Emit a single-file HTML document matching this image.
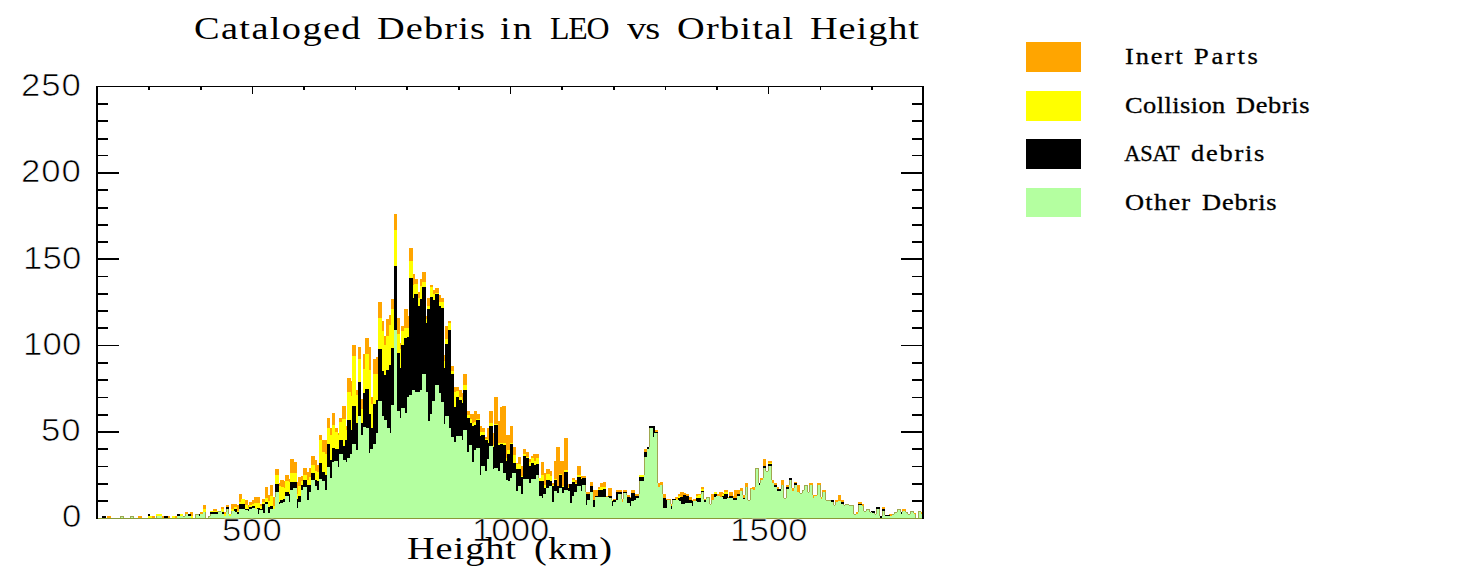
<!DOCTYPE html>
<html><head><meta charset="utf-8"><title>Cataloged Debris in LEO vs Orbital Height</title>
<style>
html,body{margin:0;padding:0;background:#fff;}
body{width:1478px;height:576px;position:relative;overflow:hidden;font-family:"Liberation Sans",sans-serif;color:#000;}
svg{position:absolute;left:0;top:0;display:block;}
.t{position:absolute;white-space:nowrap;line-height:1;transform-origin:0 0;}
.dg{-webkit-text-stroke:0.7px #fff;}
.lgt{-webkit-text-stroke:0.3px #000;}
.ser{font-family:"Liberation Serif",serif;}
.title{left:195px;top:9px;font-size:33.5px;letter-spacing:2.55px;}
.xl{left:407px;top:531px;font-size:33.5px;letter-spacing:2.3px;}
.yt{font-size:30.5px;letter-spacing:1.6px;text-align:right;width:80px;left:1px;}
.xt{font-size:30.5px;letter-spacing:1.6px;text-align:center;width:120px;top:516px;}
.lg{left:1125px;font-size:20.5px;letter-spacing:1.35px;}
.sw{position:absolute;left:1026px;width:55px;height:30px;}
</style></head><body>
<svg width="1478" height="576" viewBox="0 0 1478 576" shape-rendering="crispEdges">
<rect width="1478" height="576" fill="#fff"/>
<rect x="96.7" y="514" width="1.6" height="4" fill="#000"/>
<rect x="148.3" y="514" width="1.6" height="4" fill="#000"/>
<rect x="199.9" y="514" width="1.6" height="4" fill="#000"/>
<rect x="251.6" y="510" width="1.6" height="8" fill="#000"/>
<rect x="303.2" y="514" width="1.6" height="4" fill="#000"/>
<rect x="354.8" y="514" width="1.6" height="4" fill="#000"/>
<rect x="406.4" y="514" width="1.6" height="4" fill="#000"/>
<rect x="458.1" y="514" width="1.6" height="4" fill="#000"/>
<rect x="509.7" y="510" width="1.6" height="8" fill="#000"/>
<rect x="561.3" y="514" width="1.6" height="4" fill="#000"/>
<rect x="613.0" y="514" width="1.6" height="4" fill="#000"/>
<rect x="664.6" y="514" width="1.6" height="4" fill="#000"/>
<rect x="716.2" y="514" width="1.6" height="4" fill="#000"/>
<rect x="767.8" y="510" width="1.6" height="8" fill="#000"/>
<rect x="819.5" y="514" width="1.6" height="4" fill="#000"/>
<rect x="871.1" y="514" width="1.6" height="4" fill="#000"/>
<rect x="922.7" y="514" width="1.6" height="4" fill="#000"/>
<path d="M97 518H102V516H106V518H107V516H111V518H120V516H124V518H130V516H134V518H138V516H142V518H148V516H155V518H156V514H162V516H170V518H172V516H177V514H183V516H185V512H188V514H190V512H193V518H195V514H200V512H203V505H206V518H208V516H210V511H213V509H217V511H221V507H224V512H226V505H229V514H231V504H237V505H239V494H242V499H245V500H248V505H249V502H252V500H254V497H260V504H262V499H265V487H268V495H270V485H273V497H275V469H279V483H280V480H284V481H285V475H289V479H290V459H294V462H297V482H298V477H301V476H303V468H307V472H309V468H311V456H315V460H317V465H319V435H322V440H327V418H330V428H332V413H335V428H338V433H339V418H342V406H346V426H347V378H351V381H352V345H356V390H358V347H361V399H363V354H365V338H369V347H371V397H373V359H376V357H378V302H382V321H384V336H386V319H389V315H391V299H394V214H397V318H400V343H401V326H404V309H408V316H409V248H413V274H415V279H418V292H420V279H422V272H426V316H427V298H430V285H433V290H435V288H439V295H441V298H444V355H445V326H448V321H451V366H454V387H459V390H462V393H463V374H467V411H470V414H474V411H477V414H480V426H482V428H485V437H487V428H489V411H493V433H494V397H498V421H500V407H502V406H506V435H510V426H513V447H516V463H518V457H521V466H523V449H526V452H529V459H531V456H533V454H539V478H541V462H544V473H546V469H550V471H552V483H554V461H556V447H560V461H564V438H568V484H572V478H575V480H577V466H581V476H586V492H590V482H593V490H598V487H600V483H603V482H606V496H608V488H612V500H613V499H616V490H622V499H623V490H627V495H630V497H631V490H635V494H639V475H644V449H647V447H649V426H655V430H658V483H660V482H663V494H666V499H671V504H672V499H675V497H678V494H680V492H684V493H686V494H689V497H692V500H693V499H696V494H701V487H704V499H706V497H710V504H711V494H714V492H717V494H719V492H723V493H724V490H728V497H729V492H733V496H734V490H740V488H743V495H745V483H748V500H750V488H752V487H755V468H759V483H760V478H763V459H766V471H768V461H772V480H774V483H777V487H779V489H781V480H784V498H786V485H789V478H792V488H794V482H797V485H800V493H802V490H804V485H808V492H809V483H813V495H817V483H821V497H822V490H826V500H834V505H835V500H838V495H841V500H844V505H845V504H849V505H854V514H856V512H858V502H862V504H864V511H866V509H870V512H871V511H875V514H876V507H880V516H882V507H885V515H889V514H894V512H897V509H901V512H902V509H906V512H908V514H910V511H914V513H916V518H918V511H921V512H924V518Z" fill="#ffa500"/>
<path d="M97 518H102V516H106V518H120V516H124V518H130V516H134V518H148V516H152V518H156V514H162V518H164V516H168V518H172V516H175V518H177V514H183V516H185V514H191V516H193V518H195V514H203V509H206V518H208V516H210V511H221V509H224V514H226V507H229V514H231V509H234V507H237V511H239V502H241V499H245V505H248V508H249V505H252V504H254V503H260V506H262V502H265V498H268V501H270V496H273V506H275V475H279V486H281V487H284V488H285V481H289V482H290V473H297V494H298V486H301V481H303V475H307V480H309V477H311V465H315V471H317V472H319V440H322V452H325V454H327V428H330V435H332V425H335V432H338V435H339V422H342V419H346V430H347V392H351V396H352V356H356V395H358V359H361V409H363V369H365V354H369V370H371V404H373V374H378V318H382V331H384V345H386V336H389V325H391V309H394V230H397V334H400V349H401V331H404V328H409V261H413V285H414V284H418V298H420V286H422V282H426V319H427V306H430V287H433V294H435V293H439V302H444V361H445V339H448V323H451V371H454V392H456V391H459V397H462V400H463V385H467V415H470V419H472V423H474V422H476V419H480V432H485V439H488V440H489V423H493V445H494V424H498V443H506V458H507V450H510V443H513V455H516V464H521V476H523V454H526V457H529V462H531V458H534V461H536V458H539V478H541V475H544V485H546V474H550V476H552V485H554V479H557V486H559V474H562V486H564V470H568V487H569V484H572V480H575V483H577V475H581V478H586V494H590V486H593V500H595V496H598V489H600V487H606V497H608V496H612V500H616V492H622V502H623V492H627V497H630V498H631V493H635V496H639V475H644V452H647V447H649V426H655V432H658V487H660V485H663V498H666V500H671V506H672V499H678V496H681V497H683V495H686V496H689V500H692V501H696V496H698V495H701V489H704V500H706V497H710V504H711V500H714V492H717V496H720V497H722V494H724V492H728V498H729V496H733V498H737V494H740V491H743V498H745V487H748V500H750V489H753V490H755V468H759V483H760V480H763V466H766V471H768V463H772V483H774V485H777V489H781V485H784V498H786V487H789V478H792V491H794V483H797V492H800V493H802V490H804V485H808V492H809V485H813V498H814V496H817V485H821V499H822V492H826V500H834V505H835V502H838V501H841V502H844V505H845V504H849V505H854V514H858V504H862V506H864V511H866V509H870V512H871V511H875V514H876V507H880V516H882V509H885V515H890V516H892V514H894V512H897V509H901V512H902V511H906V512H908V514H910V511H914V514H916V518H918V511H921V514H924V518Z" fill="#ffff00"/>
<path d="M97 518H102V516H106V518H120V516H124V518H130V516H134V518H156V516H162V518H164V516H168V518H177V514H180V516H185V514H191V518H195V514H203V512H206V518H208V516H210V512H218V511H222V512H224V516H226V507H229V516H231V511H234V509H237V512H239V504H245V509H249V507H252V506H255V509H257V508H260V509H262V504H265V502H268V507H270V506H273V509H275V484H279V502H280V500H283V499H285V492H289V494H290V482H297V499H298V496H301V485H303V480H307V485H311V473H315V480H317V481H319V463H322V472H325V475H327V444H330V460H332V448H335V449H339V440H343V446H345V440H347V420H351V430H352V406H356V423H358V382H361V423H363V393H365V389H369V414H371V428H373V404H376V400H378V349H382V371H384V375H386V370H389V365H391V348H394V266H397V353H400V368H401V345H404V338H407V337H409V278H413V298H414V294H418V306H420V299H422V287H426V323H427V309H430V297H433V300H435V294H439V306H441V308H444V368H445V344H448V330H451V374H454V407H456V397H459V400H462V403H463V390H467V418H470V423H472V426H474V425H476V420H480V436H481V435H485V440H488V443H489V426H493V447H494V425H498V445H500V444H503V445H506V461H507V454H510V444H513V463H516V469H521V477H523V456H526V458H529V466H531V463H534V465H536V464H539V481H544V488H546V480H550V481H552V486H554V480H557V486H559V475H562V487H564V472H568V488H569V484H572V482H575V484H577V477H581V479H582V478H586V494H590V486H593V500H595V496H598V490H603V489H606V497H608V496H612V501H613V500H616V492H622V502H623V492H627V497H630V498H631V493H635V496H639V477H644V452H647V447H649V426H655V432H658V487H660V485H663V498H666V500H671V506H672V499H676V500H678V498H680V497H683V495H686V496H689V500H692V501H696V498H701V491H704V500H706V497H710V504H711V500H714V494H717V496H720V497H722V496H724V494H728V498H729V496H733V498H737V494H740V491H743V498H745V487H748V500H750V489H753V490H755V468H759V483H760V480H763V466H766V471H768V464H772V483H774V485H777V489H781V485H784V498H786V487H789V478H792V491H794V483H797V492H800V493H802V490H804V485H808V492H809V485H813V498H814V496H817V485H821V499H822V492H826V500H834V505H835V502H838V501H841V502H844V505H845V504H849V505H854V514H858V504H862V506H864V511H866V509H870V512H871V511H875V514H876V507H880V516H882V509H885V515H890V516H892V514H894V512H897V509H901V512H902V511H906V512H908V514H910V511H914V514H916V518H918V511H921V514H924V518Z" fill="#000000"/>
<path d="M97 518H120V516H124V518H130V516H134V518H156V516H162V518H177V516H185V514H188V516H191V518H195V514H199V516H200V514H203V512H206V518H208V516H210V514H218V511H222V514H224V516H226V509H229V516H231V511H235V512H237V514H239V509H245V510H248V511H249V509H252V508H255V509H258V514H259V510H263V513H265V504H268V513H270V509H275V492H279V504H280V503H283V502H285V496H289V502H290V490H293V488H297V508H298V502H301V490H303V487H307V500H309V492H311V480H315V486H317V490H319V479H322V481H325V490H327V467H330V478H332V462H334V461H338V467H339V454H343V460H346V462H347V458H350V454H352V444H356V450H358V416H361V435H363V427H366V428H369V453H370V449H373V444H376V433H378V401H382V416H384V420H387V428H390V433H391V405H394V330H397V411H400V418H401V408H405V413H407V397H409V395H412V390H415V392H420V390H422V374H426V392H428V421H430V414H432V401H435V385H439V393H441V402H444V424H445V416H449V428H451V437H454V442H456V436H462V440H463V430H467V452H469V445H472V462H474V450H476V448H480V475H481V466H485V471H487V459H489V446H493V469H494V468H498V471H500V463H503V473H506V480H508V481H510V478H512V473H516V491H518V486H521V494H523V479H529V483H531V479H536V475H539V496H542V498H543V494H546V488H549V486H552V502H554V491H557V493H559V488H562V493H564V490H568V491H570V503H572V496H574V492H577V486H581V491H582V485H586V505H587V500H590V492H593V507H595V497H609V498H612V506H613V502H616V500H618V494H622V502H623V493H627V503H630V506H631V501H634V500H636V498H639V481H644V457H647V449H649V428H653V437H654V433H658V487H660V485H663V508H667V500H671V509H672V500H679V501H681V504H685V503H692V506H693V501H697V502H701V492H704V502H706V497H710V504H711V500H714V497H716V496H720V497H723V499H727V498H733V500H737V496H740V491H743V499H745V487H748V500H750V489H753V490H755V468H759V485H760V480H763V468H766V471H768V466H772V483H774V487H777V491H781V485H784V498H786V489H789V480H792V491H794V485H797V492H800V493H802V490H804V485H808V492H809V485H813V498H814V496H817V485H821V499H822V492H826V500H831V502H834V505H835V502H838V501H841V504H844V505H845V504H849V505H854V514H858V505H862V506H864V511H866V509H870V512H872V513H875V514H876V509H880V518H882V511H885V516H892V514H894V512H897V509H901V514H902V511H906V512H908V514H910V511H914V514H916V518H918V511H921V514H924V518Z" fill="#b4ffa0"/>
<rect x="98" y="518" width="824" height="1" fill="#8a9a38"/>
<path d="M120 516h1v2h-1zM121 516h1v1h-1zM122 516h1v1h-1zM123 516h1v2h-1zM130 516h1v2h-1zM131 516h1v1h-1zM132 516h1v1h-1zM133 516h1v2h-1zM156 516h1v2h-1zM183 516h1v1h-1zM184 516h1v1h-1zM185 514h1v2h-1zM195 514h1v4h-1zM196 514h1v1h-1zM197 514h1v1h-1zM198 514h1v1h-1zM205 512h1v6h-1zM208 516h1v2h-1zM209 516h1v1h-1zM210 514h1v2h-1zM218 511h1v1h-1zM219 511h1v1h-1zM220 511h1v1h-1zM226 509h1v3h-1zM228 509h1v5h-1zM231 511h1v3h-1zM275 492h1v5h-1zM538 475h1v3h-1zM585 485h1v7h-1zM611 498h1v2h-1zM621 494h1v5h-1zM623 493h1v6h-1zM626 493h1v2h-1zM639 481h1v13h-1zM644 457h1v18h-1zM649 428h1v19h-1zM657 433h1v50h-1zM662 485h1v9h-1zM670 500h1v4h-1zM672 500h1v4h-1zM701 492h1v2h-1zM703 492h1v7h-1zM706 497h1v2h-1zM707 497h1v1h-1zM708 497h1v1h-1zM709 497h1v7h-1zM710 504h1v1h-1zM711 500h1v4h-1zM742 491h1v4h-1zM745 487h1v8h-1zM747 487h1v13h-1zM748 500h1v1h-1zM749 500h1v1h-1zM750 489h1v11h-1zM755 468h1v19h-1zM756 468h1v1h-1zM757 468h1v1h-1zM758 468h1v15h-1zM760 480h1v3h-1zM763 468h1v10h-1zM765 468h1v3h-1zM766 471h1v1h-1zM767 471h1v1h-1zM768 466h1v5h-1zM771 466h1v14h-1zM781 485h1v4h-1zM783 485h1v13h-1zM784 498h1v1h-1zM785 498h1v1h-1zM786 489h1v9h-1zM789 480h1v5h-1zM791 480h1v8h-1zM794 485h1v3h-1zM799 492h1v1h-1zM800 493h1v1h-1zM801 493h1v1h-1zM802 490h1v3h-1zM803 490h1v1h-1zM804 485h1v5h-1zM805 485h1v1h-1zM806 485h1v1h-1zM807 485h1v7h-1zM808 492h1v1h-1zM809 485h1v7h-1zM812 485h1v10h-1zM817 485h1v10h-1zM820 485h1v12h-1zM822 492h1v5h-1zM825 492h1v8h-1zM826 500h1v1h-1zM827 500h1v1h-1zM828 500h1v1h-1zM829 500h1v1h-1zM830 500h1v1h-1zM833 502h1v3h-1zM834 505h1v1h-1zM835 502h1v3h-1zM843 504h1v1h-1zM844 505h1v1h-1zM845 504h1v1h-1zM846 504h1v1h-1zM847 504h1v1h-1zM848 504h1v1h-1zM849 505h1v1h-1zM850 505h1v1h-1zM851 505h1v1h-1zM852 505h1v1h-1zM853 505h1v9h-1zM854 514h1v1h-1zM855 514h1v1h-1zM858 505h1v7h-1zM863 506h1v5h-1zM864 511h1v1h-1zM865 511h1v1h-1zM866 509h1v2h-1zM867 509h1v1h-1zM868 509h1v1h-1zM869 509h1v3h-1zM870 512h1v1h-1zM874 513h1v1h-1zM875 514h1v1h-1zM876 509h1v5h-1zM879 509h1v7h-1zM882 511h1v5h-1zM884 511h1v4h-1zM892 514h1v1h-1zM893 514h1v1h-1zM894 512h1v2h-1zM895 512h1v1h-1zM896 512h1v1h-1zM897 509h1v3h-1zM898 509h1v1h-1zM899 509h1v1h-1zM900 509h1v3h-1zM902 511h1v1h-1zM905 511h1v1h-1zM906 512h1v1h-1zM907 512h1v2h-1zM908 514h1v1h-1zM909 514h1v1h-1zM910 511h1v3h-1zM911 511h1v1h-1zM912 511h1v1h-1zM913 511h1v2h-1zM915 514h1v4h-1zM918 511h1v7h-1zM919 511h1v1h-1zM920 511h1v1h-1z" fill="#a0a850"/>
<rect x="96" y="86" width="2" height="433" fill="#000"/>
<rect x="922" y="86" width="2" height="433" fill="#000"/>
<rect x="96" y="86" width="828" height="1" fill="#000"/>
<rect x="96.7" y="86" width="1.6" height="4" fill="#000"/>
<rect x="148.3" y="86" width="1.6" height="4" fill="#000"/>
<rect x="199.9" y="86" width="1.6" height="4" fill="#000"/>
<rect x="251.6" y="86" width="1.6" height="8" fill="#000"/>
<rect x="303.2" y="86" width="1.6" height="4" fill="#000"/>
<rect x="354.8" y="86" width="1.6" height="4" fill="#000"/>
<rect x="406.4" y="86" width="1.6" height="4" fill="#000"/>
<rect x="458.1" y="86" width="1.6" height="4" fill="#000"/>
<rect x="509.7" y="86" width="1.6" height="8" fill="#000"/>
<rect x="561.3" y="86" width="1.6" height="4" fill="#000"/>
<rect x="613.0" y="86" width="1.6" height="4" fill="#000"/>
<rect x="664.6" y="86" width="1.6" height="4" fill="#000"/>
<rect x="716.2" y="86" width="1.6" height="4" fill="#000"/>
<rect x="767.8" y="86" width="1.6" height="8" fill="#000"/>
<rect x="819.5" y="86" width="1.6" height="4" fill="#000"/>
<rect x="871.1" y="86" width="1.6" height="4" fill="#000"/>
<rect x="922.7" y="86" width="1.6" height="4" fill="#000"/>
<rect x="96" y="500" width="12" height="2" fill="#000"/>
<rect x="912" y="500" width="12" height="2" fill="#000"/>
<rect x="96" y="483" width="12" height="2" fill="#000"/>
<rect x="912" y="483" width="12" height="2" fill="#000"/>
<rect x="96" y="466" width="12" height="1" fill="#000"/>
<rect x="912" y="466" width="12" height="1" fill="#000"/>
<rect x="96" y="448" width="12" height="2" fill="#000"/>
<rect x="912" y="448" width="12" height="2" fill="#000"/>
<rect x="96" y="431" width="23" height="2" fill="#000"/>
<rect x="901" y="431" width="23" height="2" fill="#000"/>
<rect x="96" y="414" width="12" height="2" fill="#000"/>
<rect x="912" y="414" width="12" height="2" fill="#000"/>
<rect x="96" y="397" width="12" height="1" fill="#000"/>
<rect x="912" y="397" width="12" height="1" fill="#000"/>
<rect x="96" y="379" width="12" height="2" fill="#000"/>
<rect x="912" y="379" width="12" height="2" fill="#000"/>
<rect x="96" y="362" width="12" height="2" fill="#000"/>
<rect x="912" y="362" width="12" height="2" fill="#000"/>
<rect x="96" y="345" width="23" height="1" fill="#000"/>
<rect x="901" y="345" width="23" height="1" fill="#000"/>
<rect x="96" y="327" width="12" height="2" fill="#000"/>
<rect x="912" y="327" width="12" height="2" fill="#000"/>
<rect x="96" y="310" width="12" height="2" fill="#000"/>
<rect x="912" y="310" width="12" height="2" fill="#000"/>
<rect x="96" y="293" width="12" height="2" fill="#000"/>
<rect x="912" y="293" width="12" height="2" fill="#000"/>
<rect x="96" y="276" width="12" height="1" fill="#000"/>
<rect x="912" y="276" width="12" height="1" fill="#000"/>
<rect x="96" y="258" width="23" height="2" fill="#000"/>
<rect x="901" y="258" width="23" height="2" fill="#000"/>
<rect x="96" y="241" width="12" height="2" fill="#000"/>
<rect x="912" y="241" width="12" height="2" fill="#000"/>
<rect x="96" y="224" width="12" height="2" fill="#000"/>
<rect x="912" y="224" width="12" height="2" fill="#000"/>
<rect x="96" y="207" width="12" height="2" fill="#000"/>
<rect x="912" y="207" width="12" height="2" fill="#000"/>
<rect x="96" y="189" width="12" height="2" fill="#000"/>
<rect x="912" y="189" width="12" height="2" fill="#000"/>
<rect x="96" y="172" width="23" height="2" fill="#000"/>
<rect x="901" y="172" width="23" height="2" fill="#000"/>
<rect x="96" y="155" width="12" height="1" fill="#000"/>
<rect x="912" y="155" width="12" height="1" fill="#000"/>
<rect x="96" y="138" width="12" height="2" fill="#000"/>
<rect x="912" y="138" width="12" height="2" fill="#000"/>
<rect x="96" y="120" width="12" height="2" fill="#000"/>
<rect x="912" y="120" width="12" height="2" fill="#000"/>
<rect x="96" y="103" width="12" height="2" fill="#000"/>
<rect x="912" y="103" width="12" height="2" fill="#000"/>
</svg>
<div class="t dg" style="left:21.4px;top:70.0px;font-family:&quot;Liberation Sans&quot;,sans-serif;font-size:31.6px;letter-spacing:0.82px;transform:scaleX(1.1)">250</div>
<div class="t dg" style="left:21.4px;top:156.2px;font-family:&quot;Liberation Sans&quot;,sans-serif;font-size:31.6px;letter-spacing:0.82px;transform:scaleX(1.1)">200</div>
<div class="t dg" style="left:23.0px;top:242.5px;font-family:&quot;Liberation Sans&quot;,sans-serif;font-size:31.6px;letter-spacing:0.18px;transform:scaleX(1.1)">150</div>
<div class="t dg" style="left:23.0px;top:329.0px;font-family:&quot;Liberation Sans&quot;,sans-serif;font-size:31.6px;letter-spacing:0.18px;transform:scaleX(1.1)">100</div>
<div class="t dg" style="left:41.4px;top:415.3px;font-family:&quot;Liberation Sans&quot;,sans-serif;font-size:31.6px;letter-spacing:0.91px;transform:scaleX(1.1)">50</div>
<div class="t dg" style="left:61.5px;top:501.3px;font-family:&quot;Liberation Sans&quot;,sans-serif;font-size:31.6px;letter-spacing:0.0px;transform:scaleX(1.1)">0</div>
<div class="t dg" style="left:221.6px;top:514.8px;font-family:&quot;Liberation Sans&quot;,sans-serif;font-size:31.6px;letter-spacing:0.86px;transform:scaleX(1.1)">500</div>
<div class="t dg" style="left:472.0px;top:514.8px;font-family:&quot;Liberation Sans&quot;,sans-serif;font-size:31.6px;letter-spacing:0.0px;transform:scaleX(1.1)">1000</div>
<div class="t dg" style="left:730.1px;top:514.8px;font-family:&quot;Liberation Sans&quot;,sans-serif;font-size:31.6px;letter-spacing:0.09px;transform:scaleX(1.1)">1500</div>
<div class="t" style="left:193.8px;top:11.5px;font-family:&quot;Liberation Serif&quot;,serif;font-size:32.5px;letter-spacing:1.17px;transform:scaleX(1.18)">Cataloged</div>
<div class="t" style="left:376.9px;top:11.5px;font-family:&quot;Liberation Serif&quot;,serif;font-size:32.5px;letter-spacing:0.98px;transform:scaleX(1.18)">Debris</div>
<div class="t" style="left:499.8px;top:11.5px;font-family:&quot;Liberation Serif&quot;,serif;font-size:32.5px;letter-spacing:1.69px;transform:scaleX(1.18)">in</div>
<div class="t" style="left:549.7px;top:11.5px;font-family:&quot;Liberation Serif&quot;,serif;font-size:32.5px;letter-spacing:-1.22px;transform:scaleX(0.98)">LEO</div>
<div class="t" style="left:627.3px;top:11.5px;font-family:&quot;Liberation Serif&quot;,serif;font-size:32.5px;letter-spacing:-0.68px;transform:scaleX(1.18)">vs</div>
<div class="t" style="left:676.7px;top:11.5px;font-family:&quot;Liberation Serif&quot;,serif;font-size:32.5px;letter-spacing:1.05px;transform:scaleX(1.18)">Orbital</div>
<div class="t" style="left:810.1px;top:11.5px;font-family:&quot;Liberation Serif&quot;,serif;font-size:32.5px;letter-spacing:0.78px;transform:scaleX(1.18)">Height</div>
<div class="t" style="left:407.1px;top:531.6px;font-family:&quot;Liberation Serif&quot;,serif;font-size:32.5px;letter-spacing:0.78px;transform:scaleX(1.18)">Height</div>
<div class="t" style="left:533.7px;top:531.6px;font-family:&quot;Liberation Serif&quot;,serif;font-size:32.5px;letter-spacing:0.96px;transform:scaleX(1.18)">(km)</div>
<div class="t lgt" style="left:1124.7px;top:45.9px;font-family:&quot;Liberation Serif&quot;,serif;font-size:22.4px;letter-spacing:1.61px;transform:scaleX(1.18)">Inert</div>
<div class="t lgt" style="left:1193.7px;top:45.9px;font-family:&quot;Liberation Serif&quot;,serif;font-size:22.4px;letter-spacing:2.33px;transform:scaleX(1.18)">Parts</div>
<div class="t lgt" style="left:1124.7px;top:94.6px;font-family:&quot;Liberation Serif&quot;,serif;font-size:22.4px;letter-spacing:0.36px;transform:scaleX(1.18)">Collision</div>
<div class="t lgt" style="left:1236.2px;top:94.6px;font-family:&quot;Liberation Serif&quot;,serif;font-size:22.4px;letter-spacing:0.54px;transform:scaleX(1.18)">Debris</div>
<div class="t lgt" style="left:1124.3px;top:142.8px;font-family:&quot;Liberation Serif&quot;,serif;font-size:22.4px;letter-spacing:-0.2px;transform:scaleX(1.0)">ASAT</div>
<div class="t lgt" style="left:1190.9px;top:142.8px;font-family:&quot;Liberation Serif&quot;,serif;font-size:22.4px;letter-spacing:1.49px;transform:scaleX(1.18)">debris</div>
<div class="t lgt" style="left:1124.7px;top:191.6px;font-family:&quot;Liberation Serif&quot;,serif;font-size:22.4px;letter-spacing:1.06px;transform:scaleX(1.18)">Other</div>
<div class="t lgt" style="left:1202.0px;top:191.6px;font-family:&quot;Liberation Serif&quot;,serif;font-size:22.4px;letter-spacing:0.71px;transform:scaleX(1.18)">Debris</div>

<div class="sw" style="top:42px;background:#ffa500"></div>
<div class="sw" style="top:91px;background:#ffff00"></div>
<div class="sw" style="top:139px;background:#000"></div>
<div class="sw" style="top:188px;height:29px;background:#b4ffa0"></div>
</body></html>
